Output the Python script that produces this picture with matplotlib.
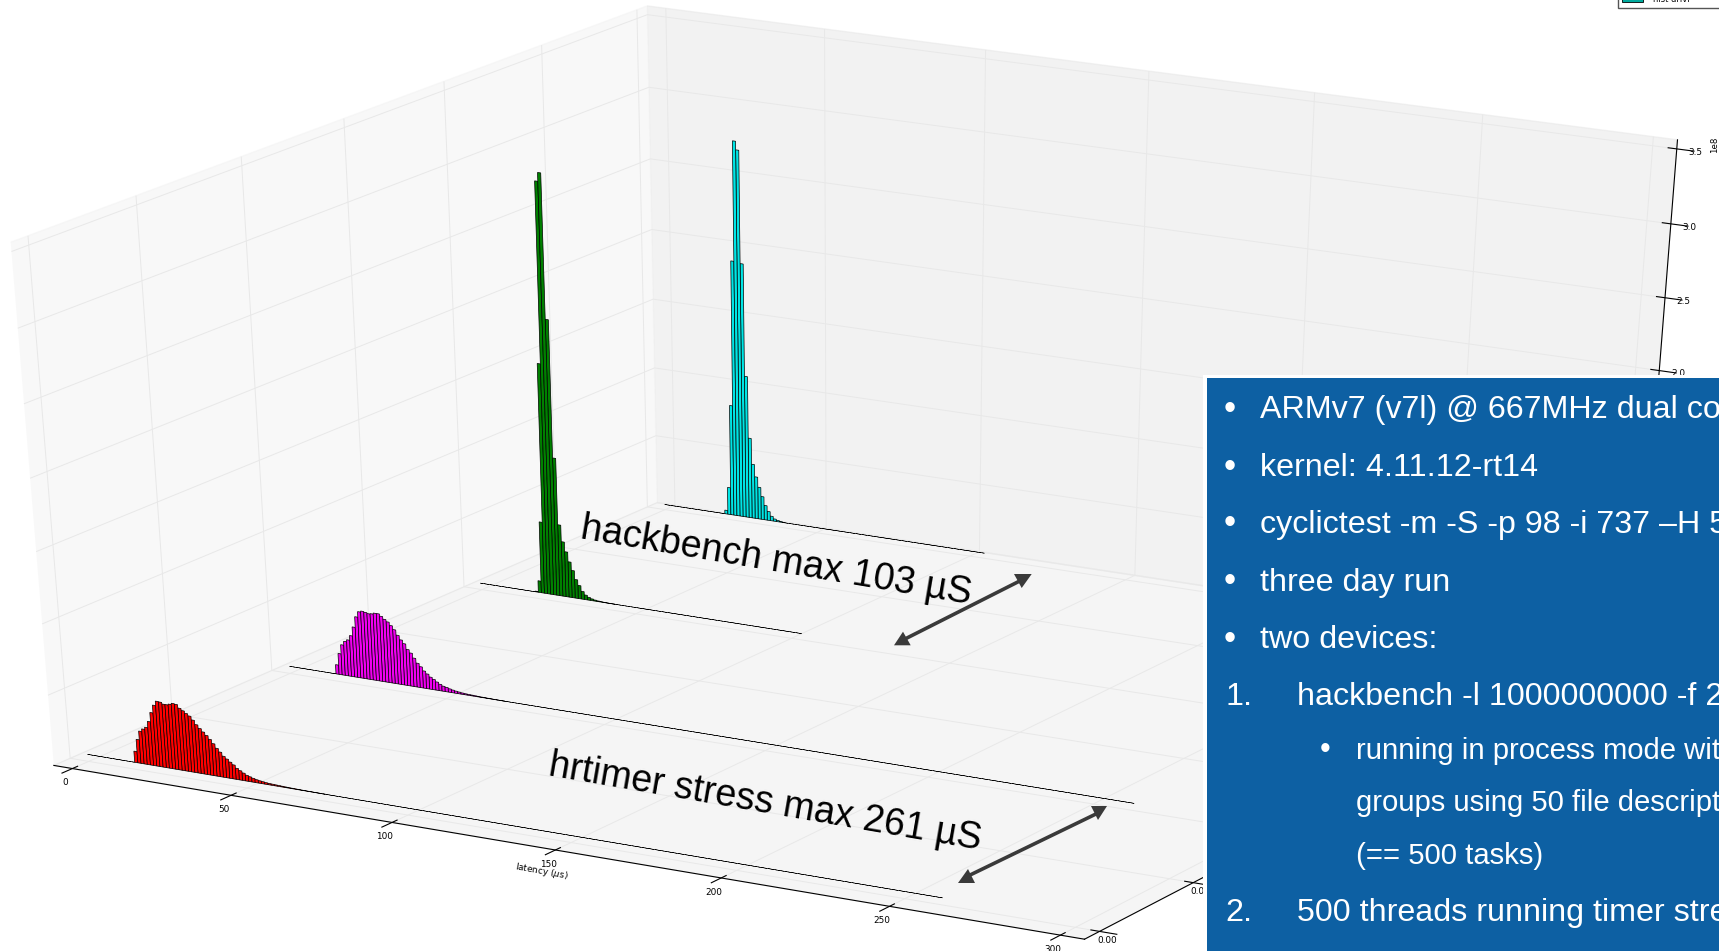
import numpy as np
import matplotlib
matplotlib.use('Agg')
import matplotlib.pyplot as plt
from matplotlib.ticker import FuncFormatter

# bar heights in units of 1e8, one list per row, red in front
red_vals = [.08,.168,.231,.25,.266,.311,.378,.434,.466,.464,.453,.453,.46,.469,.466,.443,.429,.413,.399,.374,.345,.322,.301,.28,.256,.229,.2,.177,.151,.135,.117,.101,.08,.067,.054,.042,.035,.028,.022,.018,.015,.012,.01,.009,.008,.007,.006,.005,.004,.0035,.003,.0025,.002,.0016,.0013,.001,.0008,.0006,.0004,.0002]
magenta_vals = [.067,.152,.219,.247,.262,.296,.362,.439,.479,.487,.482,.476,.479,.487,.487,.472,.454,.439,.416,.39,.354,.324,.3,.262,.24,.207,.174,.152,.125,.107,.088,.075,.06,.047,.037,.032,.025,.02,.016,.013,.01,.008,.007,.006,.005,.004,.003,.0025,.002,.0015,.001,.0007,.0005,.0003]
green_vals = [.005,.085,.52,1.66,2.93,2.99,1.98,1.0,.52,.40,.33,.26,.20,.137,.097,.057,.034,.021,.013,.008,.005,.003,.002,.001,.0006,.0003]
cyan_vals = [.027,.2,.81,1.86,2.71,2.65,1.85,1.04,.59,.40,.31,.236,.17,.107,.066,.034,.017,.01,.005,.002]

row_vals = [red_vals, magenta_vals, green_vals, cyan_vals]
row_colors = ['#ff0000', '#f000f0', '#008000', '#00e5e5']
row_y = [0.0055, 0.106, 0.2056, 0.3048]
row_from = [-4, -4, -4, -3]
row_to = [258, 259, 100, 102]
row_first = [11, 11, 14, 17]

xticks = [0, 50, 100, 150, 200, 250, 300]
yticks = [0.0, 0.05, 0.1, 0.15, 0.2, 0.25, 0.3]
zticks = [0, 0.5e8, 1e8, 1.5e8, 2e8, 2.5e8, 3e8, 3.5e8]

info_lines = ['ARMv7 (v7l) @ 667MHz dual core', 'kernel: 4.11.12-rt14', 'cyclictest -m -S -p 98 -i 737 –H 5',
              'three day run', 'two devices:']
info_base = [418, 476, 533, 591, 648]

plt.rcParams['grid.color'] = '#e8e8e8'
plt.rcParams['grid.linewidth'] = 0.7
plt.rcParams['axes.linewidth'] = 0.8

fig = plt.figure(figsize=(17.19, 9.51), dpi=100, facecolor='white')
ax = fig.add_axes([0, 0, 1, 1], projection='3d')
# the old plot is stretched to the whole slide, so no square box
ax.apply_aspect = lambda position=None: None

ax.set_box_aspect((1, 0.99158, 0.9773))
ax.elev, ax.azim, ax._dist = 29.9653, -59.8453, 10.5549
a = (11310.529, 857.938)
c = (-5799.718, 455.596)
ax.viewLim.intervalx = ((0 - a[1]) / a[0], (1719 - a[1]) / a[0])
ax.viewLim.intervaly = ((951 - c[1]) / c[0], (0 - c[1]) / c[0])

for vals, col, y0, x0, x1, first in zip(row_vals, row_colors, row_y, row_from, row_to, row_first):
    left = np.arange(x0, x1)
    height = np.zeros(len(left))
    height[first - x0:first - x0 + len(vals)] = np.array(vals) * 1e8
    # empty bins only show as the thin base line
    empty = height == 0
    ax.bar(left[empty], height[empty], zs=y0, zdir='y', width=1, align='edge', color=col, edgecolor='k', linewidth=0.35)
    ax.bar(left[~empty], height[~empty], zs=y0, zdir='y', width=1, align='edge', color=col, edgecolor='k', linewidth=0.5)

ax.set_xlim(-5.9, 307, view_margin=0)
ax.set_ylim(-0.0079, 0.3055, view_margin=0)
ax.set_zlim(0, 3.56e8, view_margin=0)
ax.set_xticks(xticks)
ax.set_yticks(yticks)
ax.set_zticks(zticks)
ax.yaxis.set_major_formatter(FuncFormatter(lambda v, pos: '%.2f' % v))
ax.zaxis.set_major_formatter(FuncFormatter(lambda v, pos: '%.1f' % (v / 1e8)))
ax.tick_params(axis='x', labelsize=6.4, pad=-2)
ax.tick_params(axis='y', labelsize=6.4, pad=-4.5)
ax.tick_params(axis='z', labelsize=6.4, pad=-2.1)
ax.set_xlabel('latency ($\\mu$s)', fontsize=6.4, labelpad=-8)

ov = fig.add_axes([0, 0, 1, 1])
ov.set_xlim(0, 1719)
ov.set_ylim(951, 0)
ov.axis('off')

ov.text(1715, 145, '1e8', fontsize=6.2, rotation=90, ha='center', va='center')
ov.add_patch(plt.Rectangle((1618, -3), 110, 10.5, fc='white', ec='#555555', lw=1))
ov.add_patch(plt.Rectangle((1622, -3), 21, 5, fc='#00a99d', ec='k', lw=0.6))
ov.text(1653, 2, 'hist drivr', fontsize=6, va='baseline')

ov.text(579, 538, 'hackbench max 103 µS', family='Liberation Sans', fontsize=27.2, rotation=-9.6,
        rotation_mode='anchor', va='baseline')
ov.text(547, 775, 'hrtimer stress max 261 µS', family='Liberation Sans', fontsize=27, rotation=-9.8,
        rotation_mode='anchor', va='baseline')

ov.plot([903, 1021.7], [640, 580], color='#3a3a3a', lw=2.6)
ov.fill([894, 910.7, 903], [645.3, 645.3, 631.7], color='#3a3a3a', lw=0)
ov.fill([1014, 1031.7, 1021.7], [574, 574, 588], color='#3a3a3a', lw=0)
ov.plot([968, 1098], [876, 813], color='#3a3a3a', lw=2.6)
ov.fill([958, 975, 968], [883, 883, 869], color='#3a3a3a', lw=0)
ov.fill([1091, 1107, 1098], [806, 806, 820], color='#3a3a3a', lw=0)

ov.add_patch(plt.Rectangle((1203, 375), 520, 580, fc='white', ec='none'))
ov.add_patch(plt.Rectangle((1207, 378), 520, 580, fc='#0d60a3', ec='none'))

for line, yb in zip(info_lines, info_base):
    ov.text(1230, yb + 0.5, '•', color='white', family='Liberation Sans', fontsize=25, ha='center', va='baseline')
    ov.text(1260, yb, line, color='white', family='Liberation Sans', fontsize=23.25, va='baseline')
ov.text(1225, 705, '1.', color='white', family='Liberation Sans', fontsize=23.25, va='baseline')
ov.text(1297, 705, 'hackbench -l 1000000000 -f 2', color='white', family='Liberation Sans', fontsize=23.25, va='baseline')
ov.text(1325, 758, '•', color='white', family='Liberation Sans', fontsize=22, ha='center', va='baseline')
ov.text(1356, 759, 'running in process mode with', color='white', family='Liberation Sans', fontsize=21.1, va='baseline')
ov.text(1356, 811, 'groups using 50 file descriptors', color='white', family='Liberation Sans', fontsize=21.1, va='baseline')
ov.text(1356, 864, '(== 500 tasks)', color='white', family='Liberation Sans', fontsize=21.1, va='baseline')
ov.text(1225, 921, '2.', color='white', family='Liberation Sans', fontsize=23.25, va='baseline')
ov.text(1297, 921, '500 threads running timer stress', color='white', family='Liberation Sans', fontsize=23.25, va='baseline')

fig.savefig('out.png', dpi=100)
